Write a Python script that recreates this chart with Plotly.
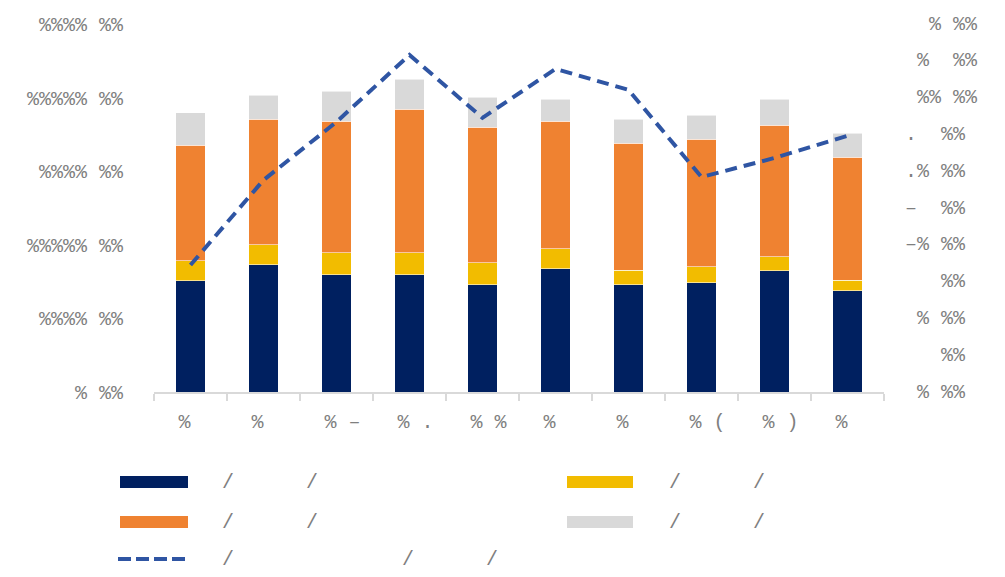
import plotly.graph_objects as go

# ---- data ----
x_pos = list(range(10))
cat_labels = ["%\u00a0", "%\u00a0", "\u00a0% \u2013", "\u00a0% .", "\u00a0% %",
              "%\u00a0", "%\u00a0", "\u00a0% (", "\u00a0% )", "%\u00a0"]
navy_vals = [756, 863, 795, 795, 727, 836, 727, 741, 824, 688]
yellow_vals = [136, 138, 152, 152, 152, 138, 100, 111, 95, 71]
orange_vals = [784, 852, 893, 974, 920, 866, 863, 866, 893, 836]
gray_vals = [220, 163, 204, 204, 204, 150, 163, 163, 177, 163]
line_vals = [34.5, 57.6, 73.4, 91.6, 74.5, 87.8, 82.1, 58.4, 63.6, 69.6]

left_tickvals = [0, 500, 1000, 1500, 2000, 2500]
left_ticktext = ["% %%", "%%%% %%", "%%%%% %%", "%%%% %%", "%%%%% %%", "%%%% %%"]
right_tickvals = [0, 10, 20, 30, 40, 50, 60, 70, 80, 90, 100]
right_ticktext = ["\u00a0%\u00a0%%", "\u00a0\u00a0\u00a0%%", "\u00a0%\u00a0%%", "\u00a0\u00a0\u00a0%%",
                  "\u2013%\u00a0%%", "\u2013\u00a0\u00a0%%", ".%\u00a0%%",
                  ".\u00a0\u00a0%%", "\u00a0%%\u00a0%%", "\u00a0%\u00a0\u00a0%%", "\u00a0\u00a0%\u00a0%%"]

legend_labels = ["/\u00a0\u00a0\u00a0\u00a0\u00a0\u00a0/",
                 "/\u00a0\u00a0\u00a0\u00a0\u00a0\u00a0/",
                 "/\u00a0\u00a0\u00a0\u00a0\u00a0\u00a0/",
                 "/\u00a0\u00a0\u00a0\u00a0\u00a0\u00a0/",
                 "/" + "\u00a0" * 14 + "/" + "\u00a0" * 6 + "/"]

NAVY = "#002060"
YELLOW = "#F2BC00"
ORANGE = "#EF8231"
GRAY = "#D9D9D9"
LINE = "#2F55A3"
TXT = "#7F7F7F"
FONT = "Liberation Mono, DejaVu Sans Mono, monospace"

fig = go.Figure()
bar_line = dict(color="rgba(255,255,255,0.55)", width=1)
for vals, col in [(navy_vals, NAVY), (yellow_vals, YELLOW), (orange_vals, ORANGE), (gray_vals, GRAY)]:
    fig.add_trace(go.Bar(x=x_pos, y=vals, marker=dict(color=col, line=bar_line),
                         width=0.41, showlegend=False, yaxis="y"))
fig.add_trace(go.Scatter(x=x_pos, y=line_vals, mode="lines", yaxis="y2",
                         line=dict(color=LINE, width=4, dash="12px,7px"), showlegend=False))

# page body offset (default 8px margin in the html page)
OFF = 8
W, H = 1005, 577
L = 154 - OFF
T = 24 - OFF
R = W - (884 - OFF)
B = H - (392 - OFF)
pw = W - L - R
ph = H - T - B

def px2paper_x(px):
    return (px - OFF - L) / pw

def px2paper_y(py):
    return (H - B - (py - OFF)) / ph

annotations = []
for v, t in zip(right_tickvals, right_ticktext):
    annotations.append(dict(x=px2paper_x(903), xref="paper", y=v, yref="y2", text=t,
                            showarrow=False, xanchor="left", yanchor="middle",
                            font=dict(family=FONT, size=20, color=TXT)))

shapes = []
leg_rows = [
    (120, 188, 482, NAVY, "bar", 220, legend_labels[0]),
    (567, 633, 482, YELLOW, "bar", 667, legend_labels[1]),
    (120, 188, 522, ORANGE, "bar", 220, legend_labels[2]),
    (567, 633, 522, GRAY, "bar", 667, legend_labels[3]),
    (118, 187, 559, LINE, "line", 220, legend_labels[4]),
]
for x0, x1, yc, col, kind, tx, label in leg_rows:
    if kind == "bar":
        shapes.append(dict(type="rect", xref="paper", yref="paper",
                           x0=px2paper_x(x0), x1=px2paper_x(x1),
                           y0=px2paper_y(yc + 6), y1=px2paper_y(yc - 6),
                           fillcolor=col, line=dict(width=0)))
    else:
        shapes.append(dict(type="line", xref="paper", yref="paper",
                           x0=px2paper_x(x0), x1=px2paper_x(x1),
                           y0=px2paper_y(yc), y1=px2paper_y(yc),
                           line=dict(color=col, width=4, dash="13px,5px")))
    annotations.append(dict(x=px2paper_x(tx), xref="paper", y=px2paper_y(yc), yref="paper",
                            text=label, showarrow=False, xanchor="left", yanchor="middle",
                            font=dict(family=FONT, size=20, color=TXT)))

fig.update_layout(
    width=W, height=H,
    margin=dict(l=L, r=R, t=T, b=B, autoexpand=False),
    paper_bgcolor="white", plot_bgcolor="white",
    barmode="stack",
    font=dict(family=FONT, size=20, color=TXT),
    xaxis=dict(range=[-0.5, 9.5], tickvals=x_pos, ticktext=cat_labels, ticks="",
               showline=True, linecolor="#D9D9D9", linewidth=1.5, showgrid=False, zeroline=False,
               ticklabelstandoff=10,
               minor=dict(tickvals=[i - 0.5 for i in range(11)], ticks="outside", ticklen=7,
                          tickcolor="#D9D9D9", tickwidth=1.5, showgrid=False),
               tickfont=dict(family=FONT, size=20, color=TXT)),
    yaxis=dict(range=[0, 2500], tickvals=left_tickvals, ticktext=left_ticktext, ticks="",
               showgrid=False, zeroline=False, showline=False, ticklabelstandoff=30,
               tickfont=dict(family=FONT, size=20, color=TXT)),
    yaxis2=dict(range=[0, 100], overlaying="y", side="right", showticklabels=False,
                showgrid=False, zeroline=False, showline=False, ticks=""),
    annotations=annotations, shapes=shapes,
)

fig.write_html("out.html")
